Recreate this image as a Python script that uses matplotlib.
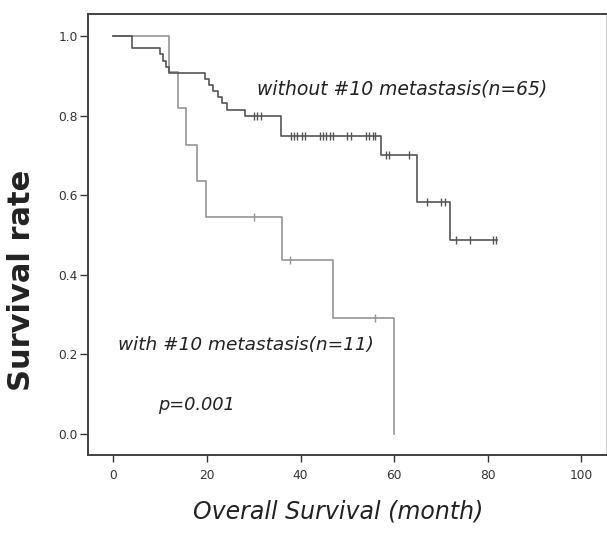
import numpy as np
import matplotlib
matplotlib.use('Agg')
import matplotlib.pyplot as plt

# without #10 metastasis (n=65): step times and survival after each step
t_without = [0, 3.9, 9.9, 10.6, 11.3, 12.0, 19.6, 20.5, 21.4, 22.4, 23.3, 24.2,
             28.1, 35.9, 57.1, 64.9, 72.0, 82.0]
s_without = [1.0, 0.969, 0.954, 0.938, 0.923, 0.908, 0.892, 0.877, 0.862, 0.846,
             0.831, 0.815, 0.800, 0.748, 0.700, 0.583, 0.488, 0.488]
c_without = [30.0, 30.7, 31.5, 38.0, 38.6, 39.3, 40.2, 40.9, 44.1, 44.8, 45.5,
             46.2, 46.9, 49.9, 50.8, 54.0, 54.7, 55.5, 56.0, 58.2, 58.9, 63.1,
             67.1, 69.9, 70.8, 73.1, 76.1, 81.1, 81.8]

# with #10 metastasis (n=11)
t_with = [0, 12.0, 13.9, 15.5, 17.9, 19.9, 36.0, 47.0, 59.9]
s_with = [1.0, 0.909, 0.818, 0.727, 0.636, 0.545, 0.436, 0.291, 0.0]
c_with = [30.0, 37.8, 56.0]

xticks = [0, 20, 40, 60, 80, 100]
yticks = [0.0, 0.2, 0.4, 0.6, 0.8, 1.0]


def at(times, surv, c):
    i = np.searchsorted(times, c, side='right') - 1
    return np.array(surv)[i]


fig = plt.figure(figsize=(6.07, 5.39), dpi=100)
ax = fig.add_axes([0.1445, 0.1558, 0.8535, 0.8177])

dark = '#555555'
light = '#959595'

ax.step(t_with, s_with, where='post', color=light, lw=1.2, zorder=2)
ax.plot(c_with, at(t_with, s_with, c_with), ls='none', marker='|',
        ms=6, mew=1.0, color=light, zorder=2)
ax.step(t_without, s_without, where='post', color=dark, lw=1.2, zorder=3)
ax.plot(c_without, at(t_without, s_without, c_without), ls='none', marker='|',
        ms=6, mew=1.0, color=dark, zorder=3)

ax.set_xlim(-5.47, 105.2)
ax.set_ylim(-0.0528, 1.0545)
ax.set_xticks(xticks)
ax.set_yticks(yticks)
ax.set_xticklabels([str(v) for v in xticks])
ax.set_yticklabels(['%.1f' % v for v in yticks])
ax.tick_params(axis='y', length=6, width=1, pad=1, labelsize=8.8, colors='#333333')
ax.tick_params(axis='x', length=5, width=1, pad=5, labelsize=8.8, colors='#333333')

for side in ['left', 'bottom', 'top']:
    ax.spines[side].set_color('#404040')
    ax.spines[side].set_linewidth(1.4)
ax.spines['right'].set_color('#cccccc')
ax.spines['right'].set_linewidth(0.8)

ax.text(30.6, 0.866, 'without #10 metastasis(n=65)', style='italic',
        fontsize=13.5, color='#222222', va='center', ha='left')
ax.text(1.07, 0.224, 'with #10 metastasis(n=11)', style='italic',
        fontsize=13.3, color='#222222', va='center', ha='left')
ax.text(9.6, 0.073, 'p=0.001', style='italic',
        fontsize=12.8, color='#222222', va='center', ha='left')

fig.text(22 / 607, 1 - 280 / 539, 'Survival rate', rotation=90, fontsize=22,
         fontweight='bold', color='#222222', ha='center', va='center')
fig.text(338 / 607, 1 - 511 / 539, 'Overall Survival (month)', style='italic',
         fontsize=17, color='#222222', ha='center', va='center')

fig.savefig('out.png', dpi=100)
